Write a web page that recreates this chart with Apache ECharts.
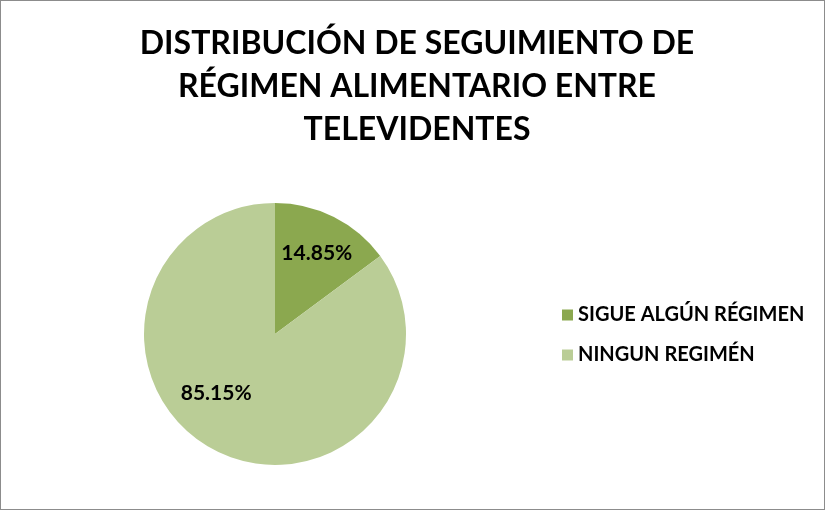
<!DOCTYPE html>
<html lang="es">
<head>
    <title>pie</title>
    <meta charset="utf-8">
    <style>
        html, body { margin: 0; padding: 0; background: #fff; }
        #main { position: absolute; left: 0; top: 0; width: 823px; height: 508px; border: 1px solid #8c8c8c; }
    </style>
</head>
<body>
<script type="text/javascript" src="https://cdn.jsdelivr.net/npm/echarts@6/dist/echarts.min.js"></script>
<div id="main"></div>
<script type="text/javascript">
    var categories = ['SIGUE ALGÚN RÉGIMEN', 'NINGUN REGIMÉN'];
    var values = [14.85, 85.15];
    var colors = ['#8ba84f', '#bacd96'];
    var labelOffsets = [[11, -20], [-28, -2]]; // mueve las etiquetas como en Excel

    var myChart = echarts.init(document.getElementById('main'));
    var data = [];
    for (var i = 0; i < categories.length; i++) {
        data.push({
            name: categories[i],
            value: values[i],
            itemStyle: { color: colors[i] },
            label: { offset: labelOffsets[i] }
        });
    }
    var font = 'Lato, "Open Sans", sans-serif';
    var option = {
        animation: false,
        title: {
            text: 'DISTRIBUCIÓN DE SEGUIMIENTO DE\nRÉGIMEN ALIMENTARIO ENTRE\nTELEVIDENTES',
            left: 411,
            textAlign: 'center',
            top: 16,
            textStyle: {
                fontFamily: font,
                fontWeight: 'bold',
                fontSize: 32,
                lineHeight: 43,
                color: '#000'
            }
        },
        legend: {
            orient: 'vertical',
            left: 556,
            top: 299,
            itemWidth: 11,
            itemHeight: 11,
            itemGap: 20,
            icon: 'rect',
            data: categories,
            textStyle: {
                fontFamily: font,
                fontWeight: 'bold',
                fontSize: 20,
                color: '#000'
            }
        },
        series: [{
            type: 'pie',
            center: [274, 333],
            radius: 131,
            startAngle: 90,
            clockwise: true,
            silent: true,
            data: data,
            label: {
                show: true,
                position: 'inside',
                formatter: function (p) { return p.value.toFixed(2) + '%'; },
                fontFamily: font,
                fontWeight: 'bold',
                fontSize: 21,
                color: '#000'
            },
            labelLine: { show: false },
            itemStyle: { borderWidth: 0 }
        }]
    };
    myChart.setOption(option);
</script>
</body>
</html>
